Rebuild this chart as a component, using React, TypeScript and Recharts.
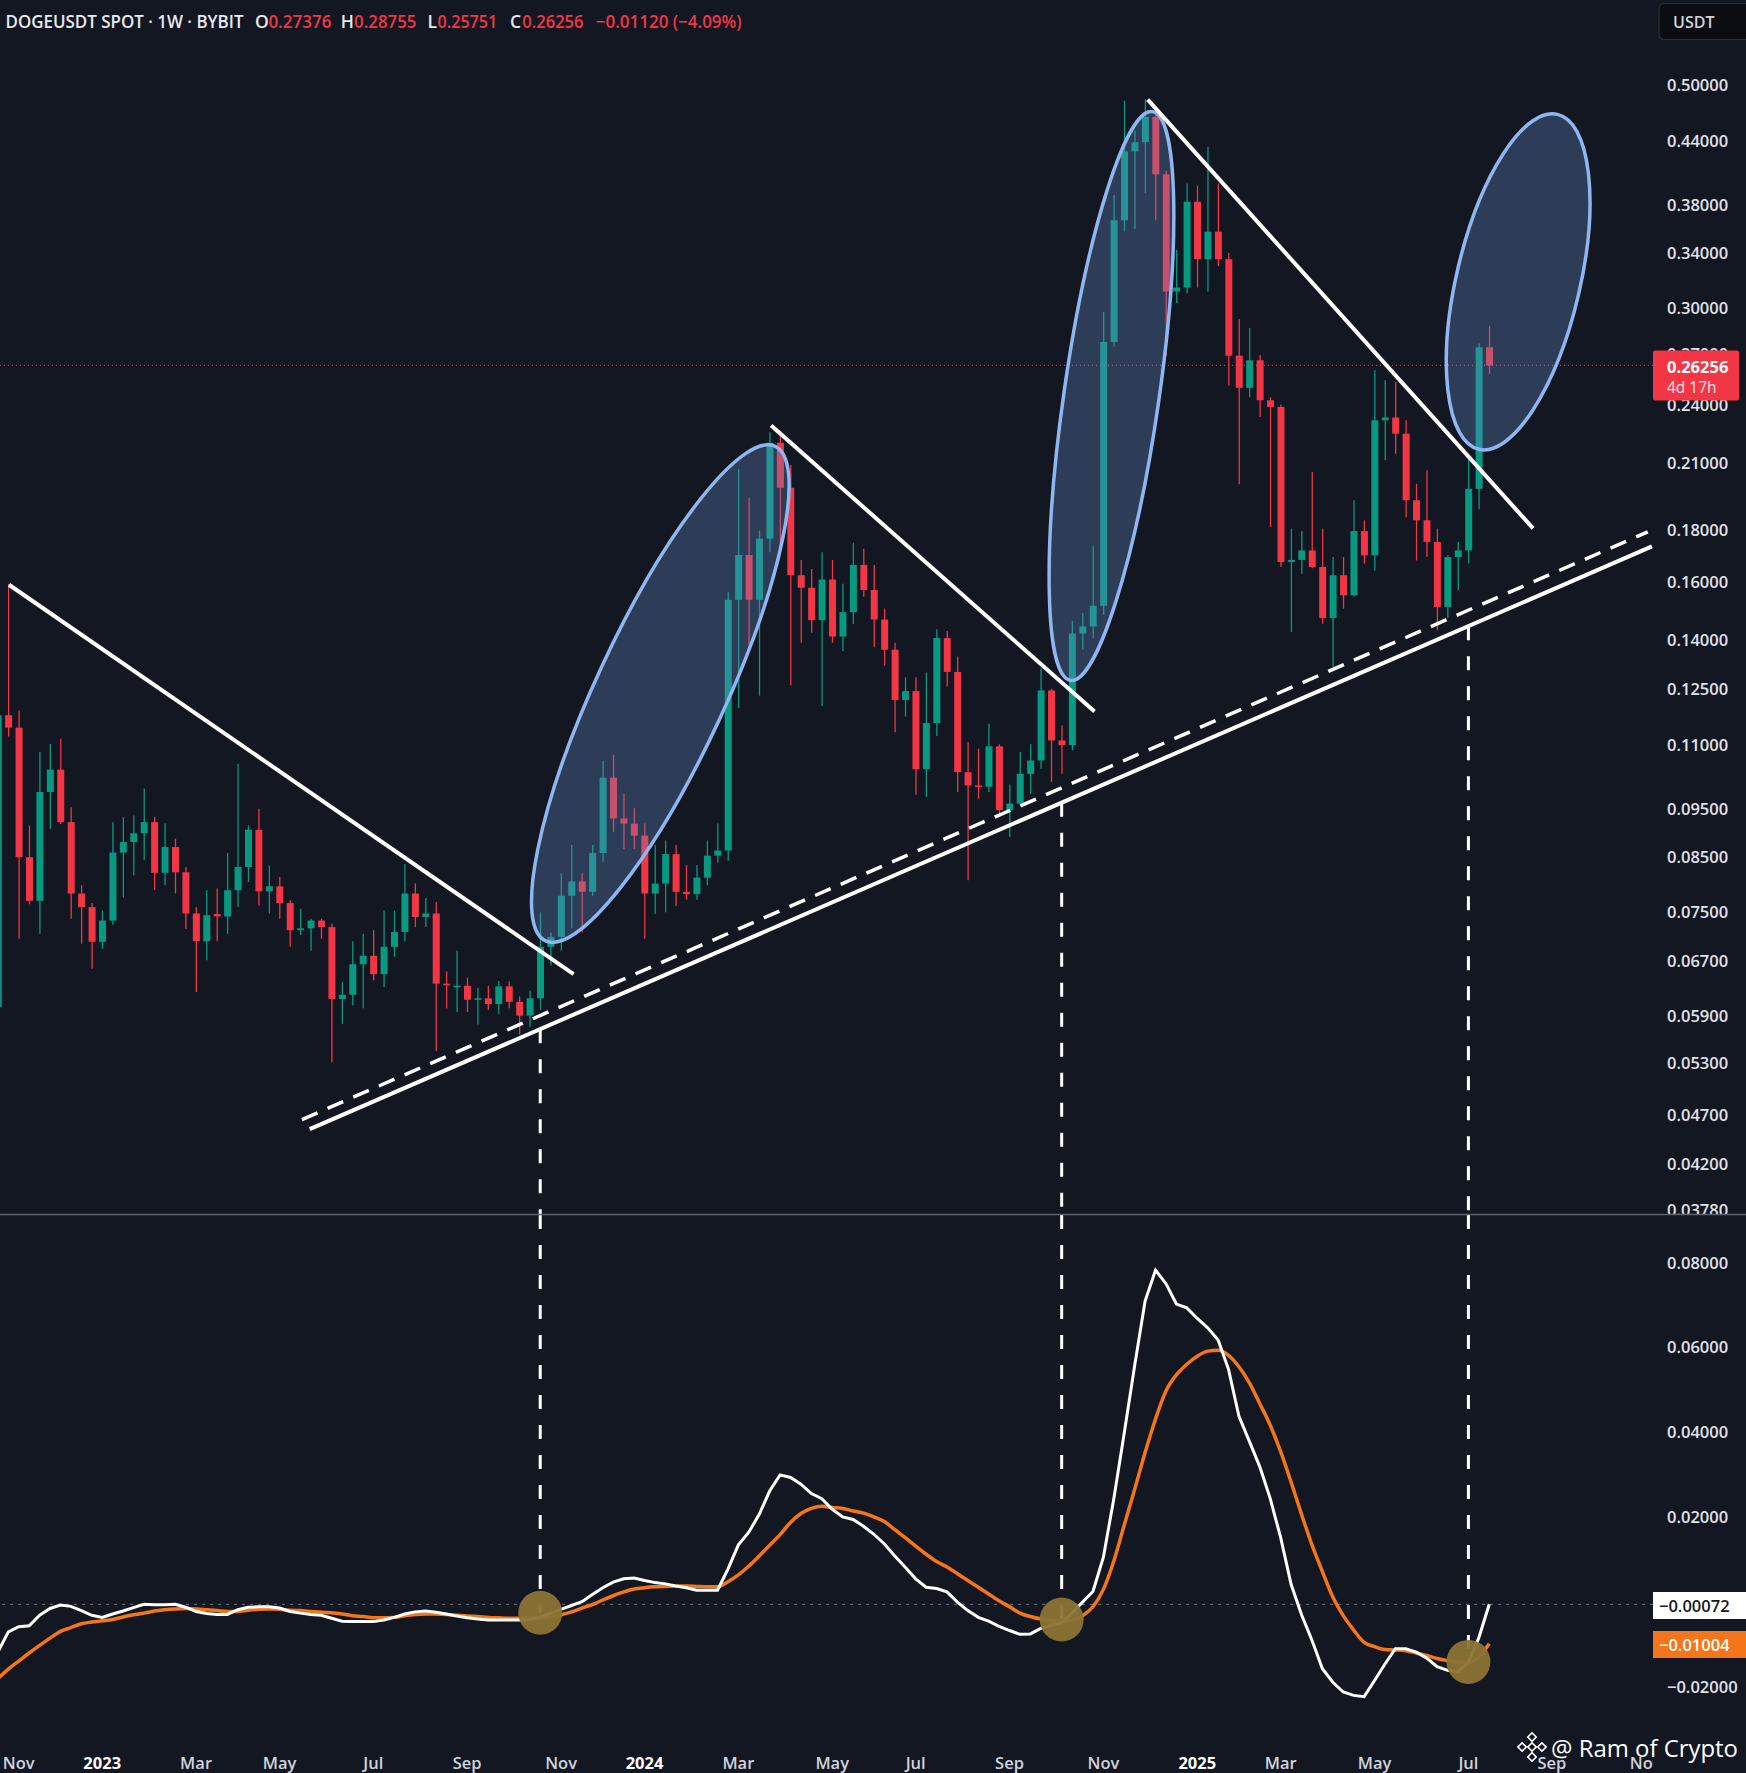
import React from 'react';
import { ComposedChart, Bar, Line, XAxis, YAxis, ReferenceLine, ReferenceDot } from 'recharts';

// weekly DOGEUSDT candles, index 0 = week of 24 Oct 2022
const OPEN = [
  0.0602, 0.1176, 0.1143, 0.0849, 0.0768, 0.0986, 0.1038, 0.0920, 0.0781, 0.0757,
  0.0699, 0.0734, 0.0858, 0.0879, 0.0897, 0.0920, 0.0819, 0.0869, 0.0820, 0.0746,
  0.0700, 0.0745, 0.0741, 0.0787, 0.0830, 0.0904, 0.0785, 0.0794, 0.0764, 0.0718,
  0.0721, 0.0734, 0.0723, 0.0613, 0.0619, 0.0664, 0.0677, 0.0649, 0.0691, 0.0715,
  0.0781, 0.0740, 0.0746, 0.0635, 0.0631, 0.0632, 0.0612, 0.0614, 0.0606, 0.0631,
  0.0609, 0.0590, 0.0614, 0.0691, 0.0707, 0.0777, 0.0803, 0.0784, 0.0857, 0.1019,
  0.0928, 0.0917, 0.0892, 0.0781, 0.0799, 0.0855, 0.0784, 0.0780, 0.0810, 0.0852,
  0.0862, 0.1533, 0.1699, 0.1533, 0.1764, 0.2199, 0.1983, 0.1622, 0.1576, 0.1463,
  0.1606, 0.1409, 0.1490, 0.1661, 0.1568, 0.1465, 0.1367, 0.1218, 0.1243, 0.1039,
  0.1155, 0.1404, 0.1299, 0.1032, 0.1001, 0.0998, 0.1095, 0.0946, 0.0960, 0.1028,
  0.1060, 0.1245, 0.1110, 0.1098, 0.1419, 0.1442, 0.1512, 0.2771, 0.3665, 0.4293,
  0.4384, 0.4647, 0.4072, 0.3112, 0.3140, 0.3824, 0.3351, 0.3570, 0.3351, 0.2685,
  0.2494, 0.2657, 0.2424, 0.2387, 0.1672, 0.1680, 0.1717, 0.1653, 0.1470, 0.1622,
  0.1549, 0.1795, 0.1698, 0.2315, 0.2330, 0.2245, 0.1927, 0.1840, 0.1751, 0.1508,
  0.1691, 0.1717, 0.1978, 0.27376,
];
const HIGH = [
  0.1230, 0.1590, 0.1189, 0.0913, 0.1081, 0.1101, 0.1114, 0.0952, 0.0796, 0.0764,
  0.0751, 0.0920, 0.0931, 0.0934, 0.0994, 0.0931, 0.0918, 0.0886, 0.0830, 0.0757,
  0.0787, 0.0790, 0.0857, 0.1052, 0.0913, 0.0949, 0.0833, 0.0811, 0.0769, 0.0754,
  0.0737, 0.0737, 0.0729, 0.0637, 0.0700, 0.0712, 0.0718, 0.0751, 0.0751, 0.0836,
  0.0799, 0.0773, 0.0766, 0.0653, 0.0685, 0.0644, 0.0629, 0.0632, 0.0639, 0.0638,
  0.0617, 0.0625, 0.0748, 0.0714, 0.0818, 0.0873, 0.0818, 0.0873, 0.1059, 0.1074,
  0.0982, 0.0950, 0.0917, 0.0873, 0.0882, 0.0873, 0.0834, 0.0834, 0.0882, 0.0917,
  0.1562, 0.2069, 0.1937, 0.1797, 0.2252, 0.2260, 0.2089, 0.1680, 0.1645, 0.1710,
  0.1680, 0.1591, 0.1748, 0.1724, 0.1661, 0.1503, 0.1389, 0.1283, 0.1283, 0.1297,
  0.1433, 0.1427, 0.1346, 0.1106, 0.1089, 0.1153, 0.1100, 0.1003, 0.1081, 0.1101,
  0.1309, 0.1250, 0.1149, 0.1460, 0.1487, 0.1734, 0.2968, 0.3884, 0.4822, 0.4502,
  0.4840, 0.4669, 0.4106, 0.3422, 0.3988, 0.3968, 0.4339, 0.3988, 0.3400, 0.2922,
  0.2861, 0.2690, 0.2440, 0.2400, 0.1805, 0.1795, 0.2056, 0.1805, 0.1691, 0.1691,
  0.1927, 0.1840, 0.2597, 0.2538, 0.2528, 0.2315, 0.2001, 0.2064, 0.1805, 0.1698,
  0.1751, 0.2120, 0.2763, 0.28755,
];
const LOW = [
  0.0590, 0.1120, 0.0704, 0.0762, 0.0712, 0.0906, 0.0916, 0.0737, 0.0696, 0.0657,
  0.0688, 0.0727, 0.0774, 0.0814, 0.0843, 0.0787, 0.0796, 0.0781, 0.0720, 0.0623,
  0.0670, 0.0700, 0.0712, 0.0757, 0.0802, 0.0760, 0.0746, 0.0737, 0.0691, 0.0710,
  0.0685, 0.0704, 0.0530, 0.0579, 0.0604, 0.0600, 0.0640, 0.0630, 0.0675, 0.0700,
  0.0723, 0.0723, 0.0544, 0.0600, 0.0595, 0.0595, 0.0578, 0.0598, 0.0592, 0.0600,
  0.0565, 0.0575, 0.0598, 0.0662, 0.0685, 0.0721, 0.0714, 0.0777, 0.0840, 0.0900,
  0.0865, 0.0865, 0.0704, 0.0745, 0.0748, 0.0759, 0.0770, 0.0770, 0.0796, 0.0838,
  0.0842, 0.1196, 0.1370, 0.1230, 0.1710, 0.1710, 0.1259, 0.1389, 0.1421, 0.1201,
  0.1389, 0.1363, 0.1450, 0.1544, 0.1375, 0.1318, 0.1131, 0.1173, 0.0980, 0.0975,
  0.1121, 0.1256, 0.0986, 0.0805, 0.0971, 0.0986, 0.0940, 0.0889, 0.0957, 0.0982,
  0.1040, 0.1009, 0.1028, 0.1085, 0.1367, 0.1404, 0.1481, 0.2742, 0.3572, 0.3591,
  0.3900, 0.3665, 0.2685, 0.3031, 0.3100, 0.3140, 0.3112, 0.3300, 0.2508, 0.1999,
  0.2441, 0.2333, 0.1812, 0.1653, 0.1424, 0.1628, 0.1648, 0.1451, 0.1314, 0.1502,
  0.1545, 0.1666, 0.1640, 0.2112, 0.2144, 0.1853, 0.1678, 0.1691, 0.1429, 0.1470,
  0.1567, 0.1666, 0.1887, 0.25751,
];
const CLOSE = [
  0.1176, 0.1143, 0.0849, 0.0768, 0.0986, 0.1038, 0.0920, 0.0781, 0.0757, 0.0699,
  0.0734, 0.0858, 0.0879, 0.0897, 0.0920, 0.0819, 0.0869, 0.0820, 0.0746, 0.0700,
  0.0743, 0.0741, 0.0787, 0.0830, 0.0904, 0.0785, 0.0794, 0.0764, 0.0718, 0.0721,
  0.0734, 0.0723, 0.0613, 0.0619, 0.0664, 0.0677, 0.0649, 0.0691, 0.0715, 0.0781,
  0.0740, 0.0746, 0.0635, 0.0633, 0.0632, 0.0612, 0.0614, 0.0606, 0.0631, 0.0609,
  0.0590, 0.0614, 0.0691, 0.0707, 0.0777, 0.0803, 0.0784, 0.0857, 0.1019, 0.0928,
  0.0917, 0.0892, 0.0781, 0.0799, 0.0855, 0.0784, 0.0780, 0.0810, 0.0852, 0.0862,
  0.1533, 0.1699, 0.1533, 0.1764, 0.2199, 0.1983, 0.1622, 0.1576, 0.1463, 0.1606,
  0.1409, 0.1490, 0.1661, 0.1568, 0.1465, 0.1367, 0.1218, 0.1243, 0.1039, 0.1155,
  0.1404, 0.1299, 0.1032, 0.1001, 0.0998, 0.1095, 0.0946, 0.0960, 0.1028, 0.1060,
  0.1245, 0.1110, 0.1098, 0.1419, 0.1442, 0.1512, 0.2771, 0.3665, 0.4293, 0.4384,
  0.4647, 0.4072, 0.3112, 0.3140, 0.3824, 0.3351, 0.3570, 0.3351, 0.2685, 0.2494,
  0.2657, 0.2424, 0.2387, 0.1672, 0.1680, 0.1717, 0.1653, 0.1470, 0.1622, 0.1549,
  0.1795, 0.1698, 0.2315, 0.2330, 0.2245, 0.1927, 0.1840, 0.1751, 0.1508, 0.1691,
  0.1717, 0.1978, 0.27376, 0.26256,
];

// oscillator pane: white (fast) and orange (slow)
const FAST = [
  -0.0120, -0.0072, -0.0060, -0.0058, -0.0033, -0.0017, -0.0009, -0.0012, -0.0022, -0.0033,
  -0.0038, -0.0030, -0.0023, -0.0015, -0.0007, -0.0008, -0.0008, -0.0007, -0.0014, -0.0024,
  -0.0029, -0.0031, -0.0031, -0.0020, -0.0014, -0.0013, -0.0013, -0.0016, -0.0024, -0.0028,
  -0.0031, -0.0033, -0.0040, -0.0047, -0.0048, -0.0048, -0.0048, -0.0044, -0.0038, -0.0030,
  -0.0025, -0.0023, -0.0026, -0.0030, -0.0035, -0.0039, -0.0042, -0.0044, -0.0044, -0.0044,
  -0.0044, -0.0043, -0.0037, -0.0028, -0.0019, -0.0010, -0.0001, 0.0016, 0.0032, 0.0045,
  0.0053, 0.0055, 0.0049, 0.0044, 0.0041, 0.0036, 0.0032, 0.0026, 0.0026, 0.0026,
  0.0076, 0.0133, 0.0163, 0.0205, 0.0260, 0.0298, 0.0292, 0.0276, 0.0254, 0.0242,
  0.0217, 0.0199, 0.0193, 0.0177, 0.0158, 0.0135, 0.0107, 0.0080, 0.0053, 0.0033,
  0.0030, 0.0022, -0.0002, -0.0022, -0.0038, -0.0047, -0.0059, -0.0069, -0.0078, -0.0077,
  -0.0064, -0.0056, -0.0051, -0.0027, -0.0002, 0.0023, 0.0104, 0.0242, 0.0397, 0.0556,
  0.0708, 0.0781, 0.0749, 0.0701, 0.0692, 0.0667, 0.0645, 0.0616, 0.0547, 0.0436,
  0.0377, 0.0317, 0.0242, 0.0150, 0.0040, -0.0032, -0.0092, -0.0159, -0.0191, -0.0214,
  -0.0222, -0.0225, -0.0187, -0.0148, -0.0112, -0.0112, -0.0120, -0.0134, -0.0154, -0.0163,
  -0.0166, -0.0144, -0.0086, -0.00072,
];
const SLOW = [
  -0.0182, -0.0160, -0.0141, -0.0122, -0.0104, -0.0087, -0.0071, -0.0062, -0.0053, -0.0049,
  -0.0046, -0.0043, -0.0037, -0.0032, -0.0028, -0.0023, -0.0020, -0.0018, -0.0017, -0.0018,
  -0.0020, -0.0022, -0.0024, -0.0024, -0.0021, -0.0019, -0.0018, -0.0019, -0.0021, -0.0022,
  -0.0024, -0.0026, -0.0027, -0.0030, -0.0034, -0.0036, -0.0039, -0.0039, -0.0038, -0.0034,
  -0.0031, -0.0030, -0.0030, -0.0031, -0.0033, -0.0035, -0.0036, -0.0038, -0.0039, -0.0040,
  -0.0040, -0.0040, -0.0040, -0.0037, -0.0032, -0.0025, -0.0016, -0.0008, 0.0003, 0.0013,
  0.0022, 0.0029, 0.0032, 0.0034, 0.0035, 0.0036, 0.0036, 0.0035, 0.0034, 0.0034,
  0.0046, 0.0062, 0.0083, 0.0107, 0.0132, 0.0157, 0.0186, 0.0207, 0.0219, 0.0224,
  0.0221, 0.0219, 0.0213, 0.0208, 0.0199, 0.0188, 0.0169, 0.0150, 0.0130, 0.0111,
  0.0094, 0.0081, 0.0065, 0.0049, 0.0033, 0.0017, 0.0001, -0.0013, -0.0028, -0.0036,
  -0.0042, -0.0046, -0.0047, -0.0045, -0.0034, -0.0013, 0.0028, 0.0095, 0.0180, 0.0264,
  0.0351, 0.0430, 0.0496, 0.0534, 0.0559, 0.0578, 0.0590, 0.0592, 0.0580, 0.0553,
  0.0515, 0.0466, 0.0415, 0.0353, 0.0281, 0.0205, 0.0133, 0.0070, 0.0010, -0.0034,
  -0.0068, -0.0097, -0.0107, -0.0114, -0.0115, -0.0117, -0.0122, -0.0128, -0.0135, -0.0140,
  -0.0144, -0.0145, -0.0131, -0.01004,
];

const MONTH_TICKS = [2, 10, 19, 27, 36, 45, 54, 62, 71, 80, 88, 97, 106, 115, 123, 132, 141, 149, 158];
const MONTH_LABELS = ['Nov', '2023', 'Mar', 'May', 'Jul', 'Sep', 'Nov', '2024', 'Mar', 'May', 'Jul', 'Sep', 'Nov', '2025', 'Mar', 'May', 'Jul', 'Sep', 'Nov'];
const PRICE_TICKS = [0.5, 0.44, 0.38, 0.34, 0.3, 0.27, 0.24, 0.21, 0.18, 0.16, 0.14, 0.125, 0.11, 0.095, 0.085, 0.075, 0.067, 0.059, 0.053, 0.047, 0.042, 0.0378];
const OSC_TICKS = [0.08, 0.06, 0.04, 0.02, -0.02];

// drawings, in (week index, value)
const DOWN_TRENDS = [
  [[1.06, 0.1587], [55.2, 0.0649]],
  [[74.14, 0.2288], [105.15, 0.1186]],
  [[110.25, 0.4834], [147.2, 0.1806]],
];
const SUPPORT_SOLID = [[29.9, 0.04546], [158.6, 0.1733]];
const SUPPORT_DASHED = [[29.15, 0.04647], [158.2, 0.1792]];
const ELLIPSE_AXES = [
  [[52.51, 0.07005], [74.52, 0.2181]],
  [[102.85, 0.1274], [110.7, 0.4703]],
  [[142.0, 0.2166], [149.54, 0.4673]],
];
const SIGNAL_WEEKS = [52, 102, 141];
const SIGNAL_SUPPORT = [0.0572, 0.0962, 0.1443];
const SIGNAL_OSC = [-0.0027, -0.0043, -0.0143];

const LAST_PRICE = 0.26256;
const LAST_FAST = -0.00072;

const W = 1746;
const H = 1773;
const PRICE_H = 1215;
const OSC_H = 558;
const AXIS_W = 93;
const PLOT_W = W - AXIS_W;
const LABEL_X = 1667;
const X_DOMAIN = [0.2, 158.7];
const PRICE_DOMAIN = [0.03733, 0.6077];
const OSC_DOMAIN = [-0.0339, 0.0911];
const ELLIPSE_MINOR = [64.5, 47.5, 61.7];

const BG = '#131722';
const GREEN = '#089981';
const RED = '#f23645';
const ORANGE = '#f5761a';
const AXIS_TEXT = '#e1e3ea';
const FONT = "'Open Sans', 'Noto Sans', sans-serif";

const candles = OPEN.map((o, i) => ({ i, o, h: HIGH[i], l: LOW[i], c: CLOSE[i], range: [LOW[i], HIGH[i]] }));
const osc = FAST.map((w, i) => ({ i, w, s: SLOW[i] }));

const Candle = (props: any) => {
  const { x, y, width, height, payload } = props;
  if (!payload || x == null) return null;
  const { o, h, l, c } = payload;
  const top = Math.min(y, y + height);
  const span = Math.abs(height);
  const logSpan = Math.log(h) - Math.log(l);
  const at = (v: number) => (logSpan > 0 ? top + (span * (Math.log(h) - Math.log(v))) / logSpan : top);
  const bTop = at(Math.max(o, c));
  const bBot = at(Math.min(o, c));
  const color = c >= o ? GREEN : RED;
  const cx = x + width / 2;
  return (
    <g>
      <line x1={cx} x2={cx} y1={top} y2={top + span} stroke={color} strokeWidth={1.3} />
      <rect x={x} y={bTop} width={width} height={Math.max(1.6, bBot - bTop)} fill={color} />
    </g>
  );
};

const ellipseShape = (minor: number) => (props: any) => {
  const { x1, y1, x2, y2 } = props;
  const cx = (x1 + x2) / 2;
  const cy = (y1 + y2) / 2;
  const rx = Math.hypot(x2 - x1, y2 - y1) / 2;
  const angle = (Math.atan2(y2 - y1, x2 - x1) * 180) / Math.PI;
  return (
    <ellipse
      cx={cx}
      cy={cy}
      rx={rx}
      ry={minor}
      transform={`rotate(${angle} ${cx} ${cy})`}
      fill="rgba(104,140,200,0.32)"
      stroke="#8fb6ee"
      strokeWidth={3.5}
    />
  );
};

const fmtOsc = (v: number) => (v < 0 ? '\u2212' + Math.abs(v).toFixed(5) : v.toFixed(5));

const PriceTick = (props: any) => (
  <text x={LABEL_X} y={props.y} dominantBaseline="central" fill={AXIS_TEXT} fontSize={16.5} fontWeight={600} fontFamily={FONT}>
    {Number(props.payload.value).toFixed(5)}
  </text>
);

const OscTick = (props: any) => (
  <text x={LABEL_X} y={props.y} dominantBaseline="central" fill={AXIS_TEXT} fontSize={16.5} fontWeight={600} fontFamily={FONT}>
    {fmtOsc(Number(props.payload.value))}
  </text>
);

const MonthTick = (props: any) => {
  const k = MONTH_TICKS.indexOf(props.payload.value);
  const label = MONTH_LABELS[k] ?? '';
  const year = /^\d{4}$/.test(label);
  return (
    <text
      x={props.x}
      y={547}
      textAnchor="middle"
      dominantBaseline="central"
      fill={year ? '#ffffff' : '#d1d4dc'}
      fontSize={16.5}
      fontWeight={year ? 700 : 600}
      fontFamily={FONT}
    >
      {label}
    </text>
  );
};

const seg = (p: number[][]) => [{ x: p[0][0], y: p[0][1] }, { x: p[1][0], y: p[1][1] }];

const PriceChart = () => (
  <ComposedChart width={W} height={PRICE_H} data={candles} margin={{ top: 0, right: 0, bottom: 0, left: 0 }}>
    <XAxis type="number" dataKey="i" domain={X_DOMAIN} allowDataOverflow hide />
    <YAxis
      orientation="right"
      scale="log"
      domain={PRICE_DOMAIN}
      allowDataOverflow
      ticks={PRICE_TICKS}
      interval={0}
      width={AXIS_W}
      axisLine={false}
      tickLine={false}
      tick={(p: any) => <PriceTick {...p} />}
    />
    <ReferenceLine y={LAST_PRICE} stroke={RED} strokeDasharray="1 3" strokeWidth={1.2} ifOverflow="visible" />
    <Bar dataKey="range" barSize={7} isAnimationActive={false} shape={(p: any) => <Candle {...p} />} />
    {ELLIPSE_AXES.map((e, k) => (
      <ReferenceLine key={'e' + k} segment={seg(e)} ifOverflow="visible" shape={ellipseShape(ELLIPSE_MINOR[k])} />
    ))}
    {DOWN_TRENDS.map((t, k) => (
      <ReferenceLine key={'t' + k} segment={seg(t)} stroke="#ffffff" strokeWidth={4} ifOverflow="visible" />
    ))}
    <ReferenceLine segment={seg(SUPPORT_SOLID)} stroke="#ffffff" strokeWidth={4} ifOverflow="visible" />
    <ReferenceLine segment={seg(SUPPORT_DASHED)} stroke="#ffffff" strokeWidth={3.5} strokeDasharray="17 11" ifOverflow="visible" />
    {SIGNAL_WEEKS.map((wk, k) => (
      <ReferenceLine
        key={'v' + k}
        segment={[{ x: wk, y: SIGNAL_SUPPORT[k] }, { x: wk, y: PRICE_DOMAIN[0] }]}
        stroke="#ffffff"
        strokeWidth={3}
        strokeDasharray="14 16"
        ifOverflow="visible"
      />
    ))}
  </ComposedChart>
);

const OscChart = () => (
  <ComposedChart width={W} height={OSC_H} data={osc} margin={{ top: 0, right: 0, bottom: 0, left: 0 }}>
    <XAxis
      type="number"
      dataKey="i"
      domain={X_DOMAIN}
      allowDataOverflow
      ticks={MONTH_TICKS}
      interval={0}
      height={28}
      axisLine={false}
      tickLine={false}
      tick={(p: any) => <MonthTick {...p} />}
    />
    <YAxis
      orientation="right"
      domain={OSC_DOMAIN}
      allowDataOverflow
      ticks={OSC_TICKS}
      interval={0}
      width={AXIS_W}
      axisLine={false}
      tickLine={false}
      tick={(p: any) => <OscTick {...p} />}
    />
    <ReferenceLine y={LAST_FAST} stroke="#5d606b" strokeDasharray="3 5" strokeWidth={1.2} ifOverflow="visible" />
    {SIGNAL_WEEKS.map((wk, k) => (
      <ReferenceDot key={'c' + k} x={wk} y={SIGNAL_OSC[k]} r={22} fill="#8a7334" fillOpacity={0.95} stroke="none" ifOverflow="visible" />
    ))}
    <Line type="monotone" dataKey="s" stroke={ORANGE} strokeWidth={3.5} dot={false} isAnimationActive={false} />
    <Line type="linear" dataKey="w" stroke="#ffffff" strokeWidth={3} dot={false} isAnimationActive={false} />
    {SIGNAL_WEEKS.map((wk, k) => (
      <ReferenceLine
        key={'v' + k}
        segment={[{ x: wk, y: OSC_DOMAIN[1] }, { x: wk, y: SIGNAL_OSC[k] }]}
        stroke="#ffffff"
        strokeWidth={3}
        strokeDasharray="14 16"
        ifOverflow="visible"
      />
    ))}
  </ComposedChart>
);

const Overlay = () => (
  <svg width={W} height={H} style={{ position: 'absolute', left: 0, top: 0, pointerEvents: 'none' }} fontFamily={FONT}>
    <line x1={0} x2={W} y1={PRICE_H - 0.5} y2={PRICE_H - 0.5} stroke="#5d606b" strokeWidth={1.5} />
    <rect x={PLOT_W} y={1745} width={AXIS_W} height={28} fill={BG} />

    {/* header */}
    <g fontSize={17.5} fontWeight={600} dominantBaseline="central">
      <text x={5.5} y={20.5} fill="#e8eaef" textLength={238} lengthAdjust="spacingAndGlyphs">DOGEUSDT SPOT · 1W · BYBIT</text>
      <text x={255} y={20.5} fill="#e8eaef">O</text>
      <text x={268.4} y={20.5} fill={RED} textLength={63} lengthAdjust="spacingAndGlyphs">0.27376</text>
      <text x={340.8} y={20.5} fill="#e8eaef">H</text>
      <text x={354.1} y={20.5} fill={RED} textLength={62.4} lengthAdjust="spacingAndGlyphs">0.28755</text>
      <text x={427.6} y={20.5} fill="#e8eaef">L</text>
      <text x={437.6} y={20.5} fill={RED} textLength={59.6} lengthAdjust="spacingAndGlyphs">0.25751</text>
      <text x={510} y={20.5} fill="#e8eaef">C</text>
      <text x={522.3} y={20.5} fill={RED} textLength={61.2} lengthAdjust="spacingAndGlyphs">0.26256</text>
      <text x={595.8} y={20.5} fill={RED} textLength={145.8} lengthAdjust="spacingAndGlyphs">{'\u22120.01120 (\u22124.09%)'}</text>
    </g>

    {/* currency box */}
    <rect x={1659} y={3.5} width={95} height={36} rx={5} fill="#0b0d13" stroke="#2a2e39" strokeWidth={1.2} />
    <text x={1673} y={21.5} fill="#d1d4dc" fontSize={16} fontWeight={600} dominantBaseline="central">USDT</text>

    {/* last price label */}
    <rect x={PLOT_W} y={350.5} width={86} height={50} rx={2} fill={RED} />
    <text x={LABEL_X} y={366} fill="#ffffff" fontSize={16.5} fontWeight={700} dominantBaseline="central">0.26256</text>
    <text x={LABEL_X} y={387} fill="#ffe9ea" fontSize={15.5} fontWeight={500} dominantBaseline="central">4d 17h</text>

    {/* oscillator labels */}
    <rect x={PLOT_W} y={1592} width={AXIS_W} height={27} fill="#ffffff" />
    <text x={1659} y={1605.5} fill={BG} fontSize={16.5} fontWeight={600} dominantBaseline="central">{'\u22120.00072'}</text>
    <rect x={PLOT_W} y={1631} width={AXIS_W} height={27} fill={ORANGE} />
    <text x={1659} y={1644.5} fill="#ffffff" fontSize={16.5} fontWeight={600} dominantBaseline="central">{'\u22120.01004'}</text>

    {/* watermark */}
    <g transform="translate(1532 1747) rotate(45)" fill="none" stroke="#ffffff" strokeWidth={1.6}>
      <rect x={-3} y={-3} width={6} height={6} />
      <rect x={-10} y={-10} width={6} height={6} />
      <rect x={4} y={4} width={6} height={6} />
      <rect x={4} y={-10} width={6} height={6} />
      <rect x={-10} y={4} width={6} height={6} />
    </g>
    <text x={1551} y={1747} fill="#ffffff" fontSize={24} fontWeight={500} dominantBaseline="central" textLength={187} lengthAdjust="spacingAndGlyphs">
      @ Ram of Crypto
    </text>
  </svg>
);

export default function App() {
  return (
    <div style={{ position: 'absolute', left: 0, top: 0, width: W, height: H, background: BG, overflow: 'hidden', fontFamily: FONT }}>
      <div style={{ position: 'absolute', left: 0, top: 0 }}>
        <PriceChart />
      </div>
      <div style={{ position: 'absolute', left: 0, top: PRICE_H }}>
        <OscChart />
      </div>
      <Overlay />
    </div>
  );
}
